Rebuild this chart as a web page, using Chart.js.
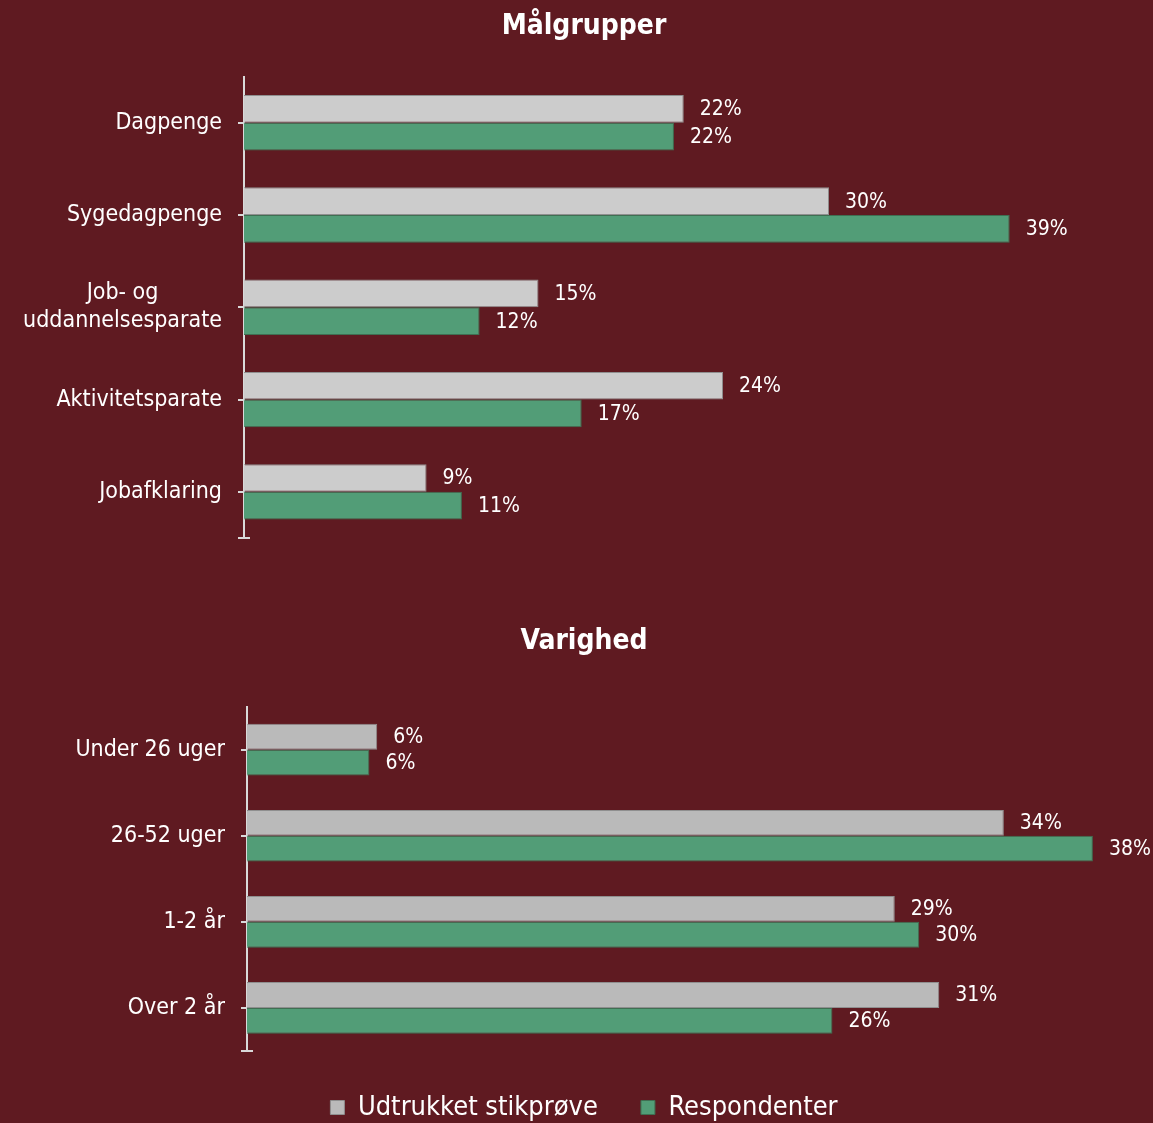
<!DOCTYPE html>
<html>
<head>
<meta charset="utf-8">
<script src="https://cdn.jsdelivr.net/npm/chart.js@4"></script>
<style>
  body { margin: 0; background: #5f1a21; overflow: hidden; }
  .box { position: absolute; left: 0; width: 1153px; }
</style>
</head>
<body>
<div class="box" style="top:0;height:570px"><canvas id="top"></canvas></div>
<div class="box" style="top:600px;height:531px"><canvas id="bottom"></canvas></div>
<script>
// Målgrupper
const catsTop = ['Dagpenge', 'Sygedagpenge', ['Job- og', 'uddannelsesparate'], 'Aktivitetsparate', 'Jobafklaring'];
const stikTop = [22.4, 29.8, 15.0, 24.4, 9.3];
const respTop = [21.9, 39.0, 12.0, 17.2, 11.1];

// Varighed
const catsBottom = ['Under 26 uger', '26-52 uger', '1-2 år', 'Over 2 år'];
const stikBottom = [5.85, 34.0, 29.1, 31.1];
const respBottom = [5.5, 38.0, 30.2, 26.3];

const seriesNames = ['Udtrukket stikprøve', 'Respondenter'];

const font = '"DejaVu Sans Condensed", "DejaVu Sans", sans-serif';
const green = '#529d77';

// percent labels at the end of each bar
const barLabels = {
  id: 'barLabels',
  afterDatasetsDraw(chart) {
    const ctx = chart.ctx;
    ctx.save();
    ctx.fillStyle = '#ffffff';
    ctx.font = '21px ' + font;
    ctx.textAlign = 'left';
    ctx.textBaseline = 'middle';
    chart.data.datasets.forEach((ds, i) => {
      chart.getDatasetMeta(i).data.forEach((bar, j) => {
        ctx.fillText(Math.round(ds.data[j]) + '%', bar.x + 16, bar.y + 1);
      });
    });
    ctx.restore();
  }
};

// small cap at the bottom end of the category axis
const axisCap = {
  id: 'axisCap',
  afterDraw(chart) {
    const y = chart.scales.y;
    const ctx = chart.ctx;
    ctx.save();
    ctx.strokeStyle = '#d9d9d9';
    ctx.lineWidth = 2;
    ctx.beginPath();
    ctx.moveTo(y.right - 6, y.bottom);
    ctx.lineTo(y.right + 6, y.bottom);
    ctx.stroke();
    ctx.restore();
  }
};

// multi-line category labels: lines centred on each other, block still right aligned
const centerLines = {
  id: 'centerLines',
  beforeDraw(chart) {
    const scale = chart.scales.y;
    const ctx = chart.ctx;
    ctx.save();
    scale.getLabelItems().forEach(item => {
      if (!Array.isArray(item.label)) return;
      ctx.font = item.font.string;
      const w = Math.max(...item.label.map(t => ctx.measureText(t).width));
      item.options.textAlign = 'center';
      item.options.translation[0] -= w / 2;
    });
    ctx.restore();
  }
};

function makeChart(id, title, cats, stik, resp, opts) {
  return new Chart(document.getElementById(id), {
    type: 'bar',
    data: {
      labels: cats,
      datasets: [{
        label: seriesNames[0],
        data: stik,
        backgroundColor: opts.gray,
        borderColor: '#8f8f8f',
        borderWidth: 1,
        categoryPercentage: 0.6,
        barPercentage: 1.0
      }, {
        label: seriesNames[1],
        data: resp,
        backgroundColor: green,
        borderColor: '#3f6f52',
        borderWidth: 1,
        categoryPercentage: 0.6,
        barPercentage: 1.0
      }]
    },
    options: {
      indexAxis: 'y',
      responsive: true,
      maintainAspectRatio: false,
      animation: false,
      layout: { padding: opts.padding },
      scales: {
        x: { display: false, min: 0, max: opts.max },
        y: {
          afterFit(scale) { scale.width = opts.left - opts.padding.left; },
          grid: {
            display: true,
            drawOnChartArea: false,
            offset: false,
            tickLength: 6,
            color: '#d9d9d9',
            lineWidth: 2
          },
          border: { display: true, color: '#d9d9d9', width: 2 },
          ticks: {
            color: '#ffffff',
            padding: 16,
            font: { family: font, size: 23 }
          }
        }
      },
      plugins: {
        title: {
          display: true,
          text: title,
          color: '#ffffff',
          font: { family: font, size: 28, weight: 'bold' },
          padding: opts.titlePadding
        },
        legend: opts.legend,
        tooltip: { enabled: false }
      }
    },
    plugins: [barLabels, axisCap, centerLines]
  });
}

makeChart('top', 'Målgrupper', catsTop, stikTop, respTop, {
  gray: '#cccccc',
  max: 46.3,
  left: 244,
  padding: { top: 0, right: 0, bottom: 32, left: 15 },
  titlePadding: { top: 10, bottom: 33 },
  legend: { display: false }
});

makeChart('bottom', 'Varighed', catsBottom, stikBottom, respBottom, {
  gray: '#bababa',
  max: 40.7,
  left: 247,
  padding: { top: 0, right: 0, bottom: 0, left: 15 },
  titlePadding: { top: 25, bottom: 48 },
  legend: {
    display: true,
    position: 'bottom',
    labels: {
      color: '#ffffff',
      boxWidth: 14,
      boxHeight: 14,
      padding: 43,
      font: { family: font, size: 27 }
    }
  }
});
</script>
</body>
</html>
